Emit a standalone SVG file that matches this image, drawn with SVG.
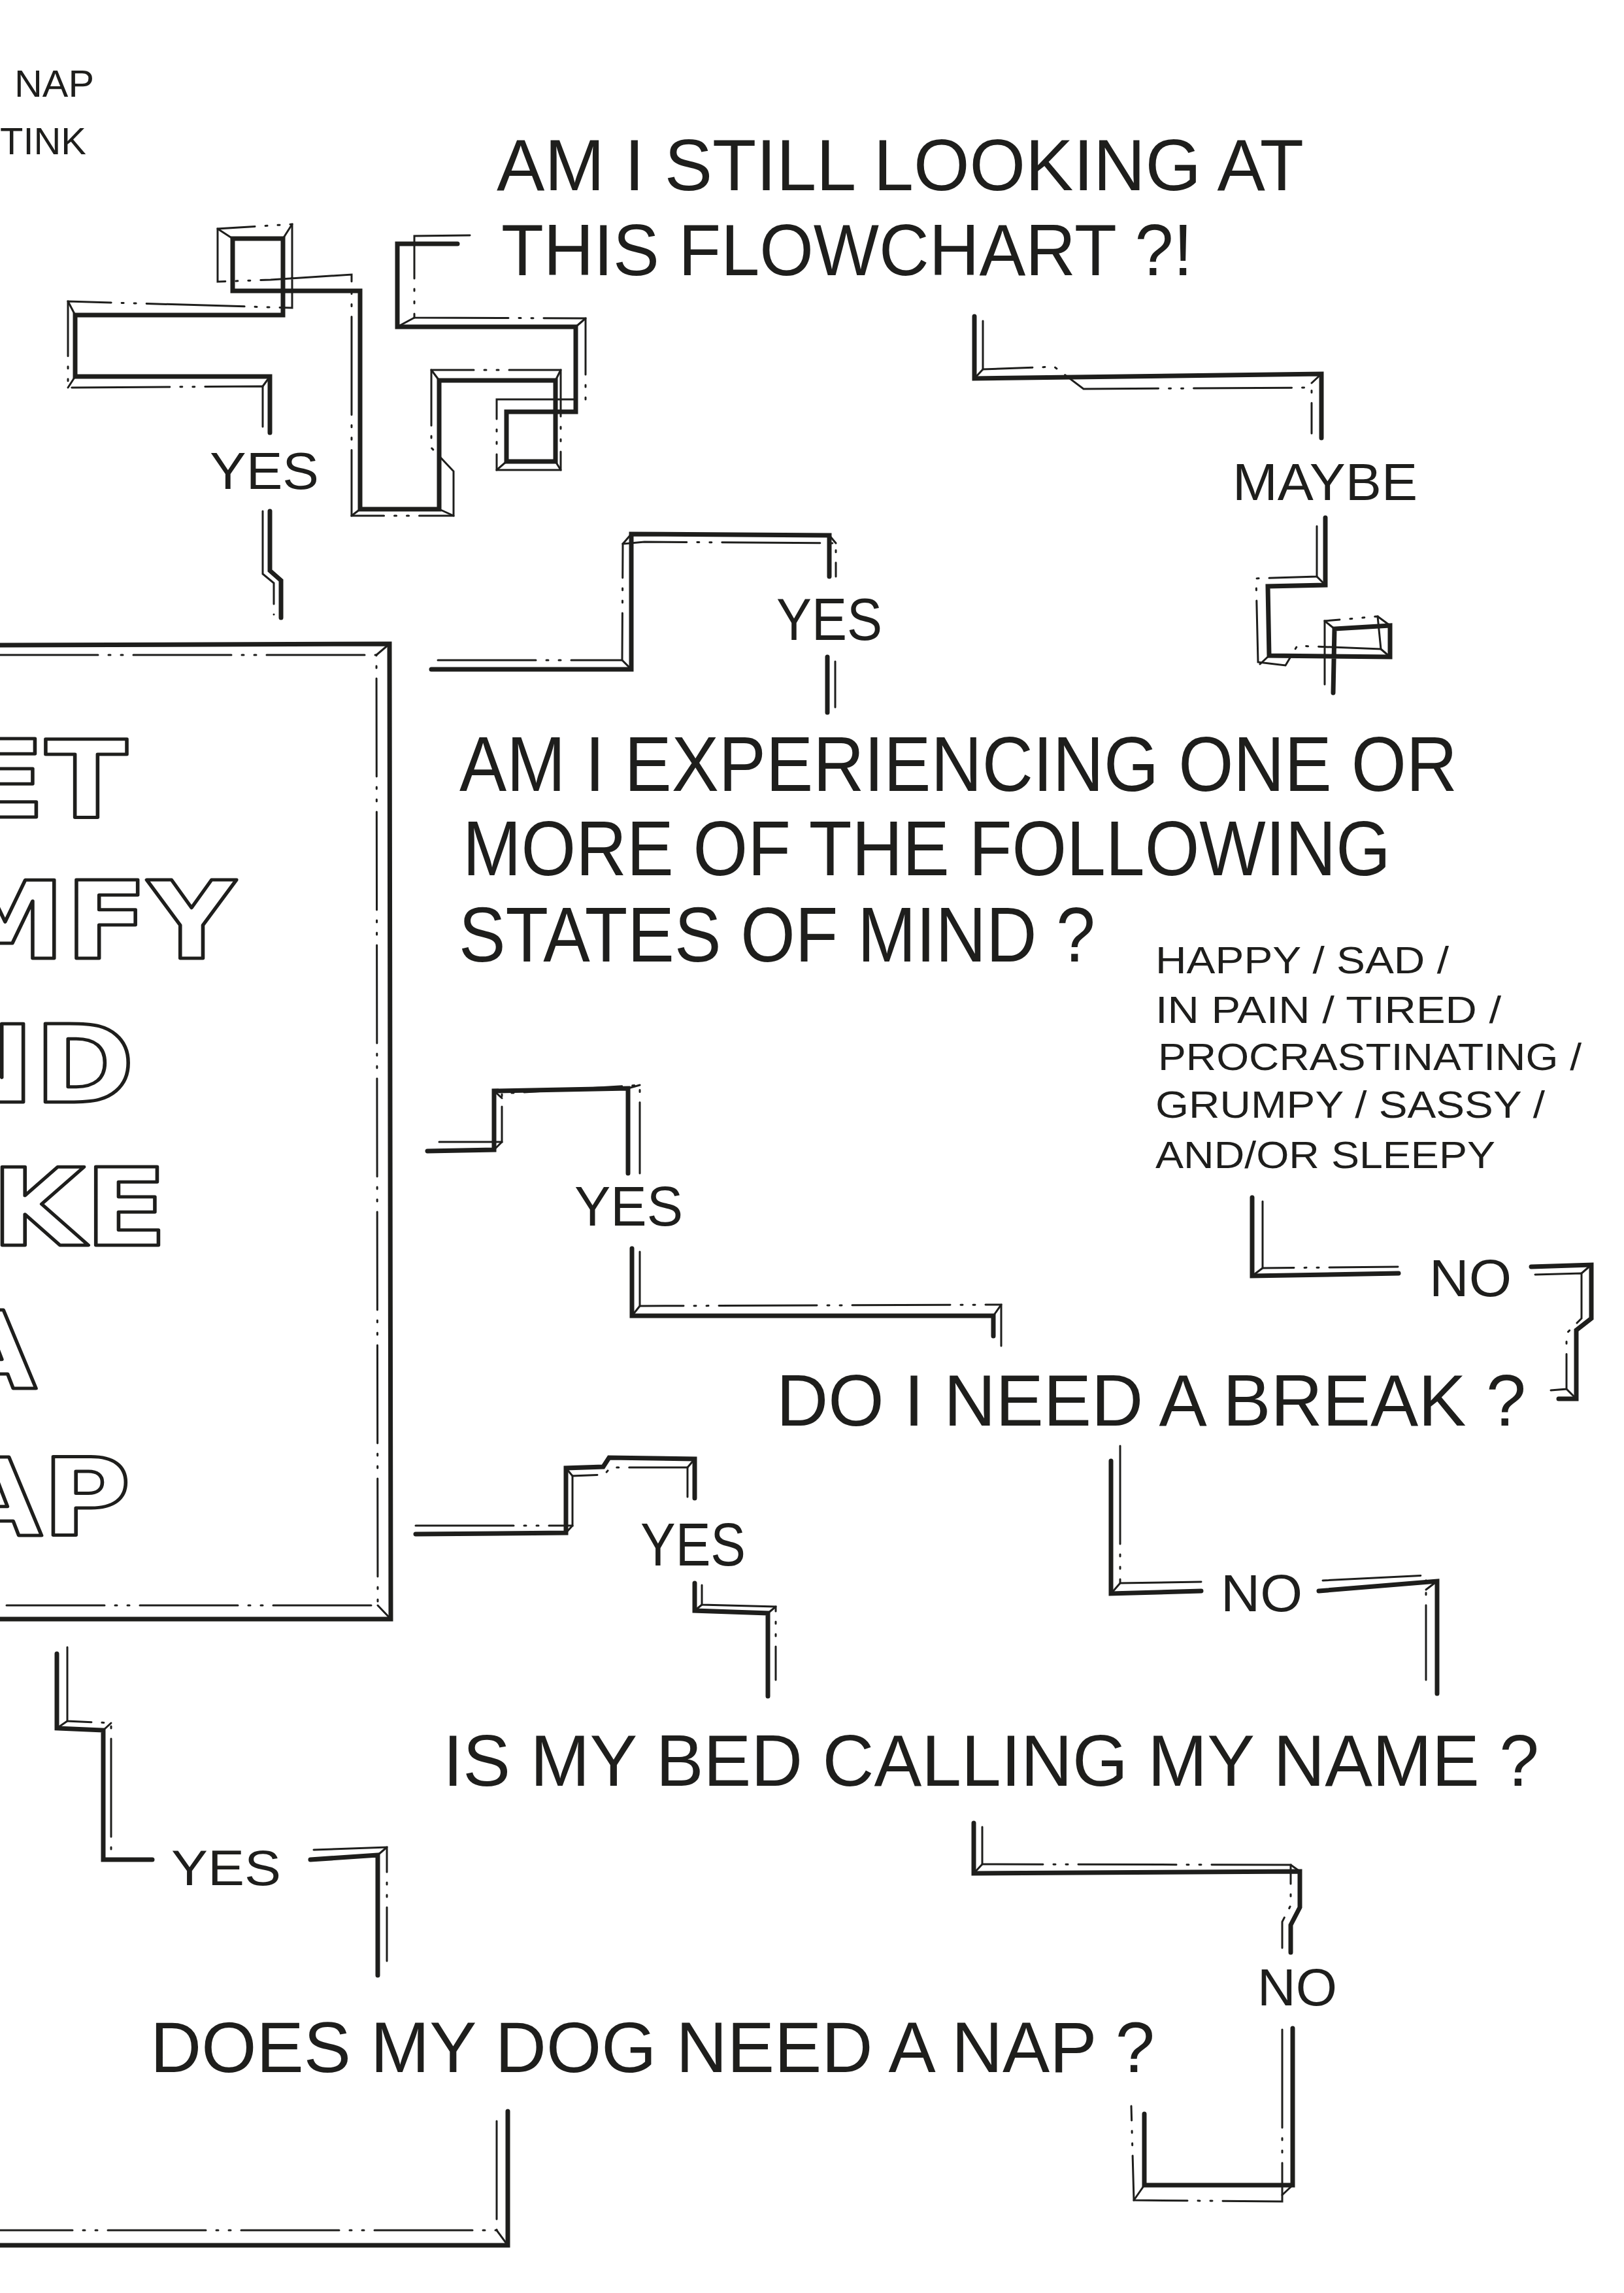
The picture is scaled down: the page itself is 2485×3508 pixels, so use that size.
<svg xmlns="http://www.w3.org/2000/svg" width="2485" height="3508" viewBox="0 0 2485 3508">
<style>
.bg{fill:#ffffff}
.thick{fill:none;stroke:#1e1e1c;stroke-width:7;stroke-linejoin:miter;stroke-linecap:round}
.thin{fill:none;stroke:#1e1e1c;stroke-width:3;stroke-linejoin:miter;stroke-linecap:round;stroke-dasharray:150 16 3 16 3 16}
.bev{fill:none;stroke:#1e1e1c;stroke-width:3;stroke-linecap:round}
.t{font-family:"Liberation Sans",Arial,sans-serif;fill:#1e1e1c}
.q{font-size:112px}
.lab{font-size:80px}
.sm{font-size:57px}
.big{font-family:"DejaVu Sans",Verdana,sans-serif;font-weight:bold;font-size:165px;fill:none;stroke:#1e1e1c;stroke-width:5;stroke-linejoin:round}
</style>
<rect class="bg" x="0" y="0" width="2485" height="3508"/>

<g id="corner-text">
<text class="t sm" x="22" y="148" textLength="122" lengthAdjust="spacingAndGlyphs">NAP</text>
<text class="t sm" x="0" y="236" textLength="132" lengthAdjust="spacingAndGlyphs">TINK</text>
</g>

<g id="node-still-looking">
<text class="t q" x="760" y="291" textLength="1235" lengthAdjust="spacingAndGlyphs">AM I STILL LOOKING AT</text>
<text class="t q" x="767" y="421" textLength="1058" lengthAdjust="spacingAndGlyphs">THIS FLOWCHART ?!</text>
</g>

<g id="node-states">
<text class="t" style="font-size:118px" x="703" y="1210" textLength="1527" lengthAdjust="spacingAndGlyphs">AM I EXPERIENCING ONE OR</text>
<text class="t" style="font-size:118px" x="708" y="1339" textLength="1420" lengthAdjust="spacingAndGlyphs">MORE OF THE FOLLOWING</text>
<text class="t" style="font-size:118px" x="702" y="1471" textLength="974" lengthAdjust="spacingAndGlyphs">STATES OF MIND ?</text>
</g>

<g id="node-states-list">
<text class="t sm" x="1768" y="1489" textLength="449" lengthAdjust="spacingAndGlyphs">HAPPY / SAD /</text>
<text class="t sm" x="1768" y="1565" textLength="529" lengthAdjust="spacingAndGlyphs">IN PAIN / TIRED /</text>
<text class="t sm" x="1772" y="1637" textLength="648" lengthAdjust="spacingAndGlyphs">PROCRASTINATING /</text>
<text class="t sm" x="1768" y="1710" textLength="596" lengthAdjust="spacingAndGlyphs">GRUMPY / SASSY /</text>
<text class="t sm" x="1768" y="1787" textLength="520" lengthAdjust="spacingAndGlyphs">AND/OR SLEEPY</text>
</g>

<g id="node-break">
<text class="t q" x="1188" y="2181" textLength="1147" lengthAdjust="spacingAndGlyphs">DO I NEED A BREAK ?</text>
</g>

<g id="node-bed">
<text class="t q" x="678" y="2732" textLength="1677" lengthAdjust="spacingAndGlyphs">IS MY BED CALLING MY NAME ?</text>
</g>

<g id="node-dog">
<text class="t" style="font-size:110px" x="230" y="3170" textLength="1537" lengthAdjust="spacingAndGlyphs">DOES MY DOG NEED A NAP ?</text>
</g>

<g id="node-nap-box">
<path class="thick" d="M0,987 L596,985 L598,2477 L0,2477"/>
<path class="thin" d="M0,1002 L576,1002 L578,2456 L0,2456"/>
<path class="bev" d="M596,985 L576,1002 M598,2477 L578,2456"/>
<g class="big">
<text transform="translate(195,1250) scale(1.12,1)" text-anchor="end">GET</text>
<text transform="translate(360,1466) scale(1.12,1)" text-anchor="end">COMFY</text>
<text transform="translate(206,1686) scale(1.12,1)" text-anchor="end">AND</text>
<text transform="translate(256,1905) scale(1.12,1)" text-anchor="end">TAKE</text>
<text transform="translate(56,2124) scale(1.12,1)" text-anchor="end">A</text>
<text transform="translate(200,2349) scale(1.12,1)" text-anchor="end">NAP</text>
</g>
</g>

<g id="connectors">
<!-- A: still looking -> YES -> box (maze) -->
<g id="conn-a">
<path class="thick" d="M700,373 L608,373 L608,500 L881,500 L881,630 L775,630 L775,706 L850,706 L850,582 L672,582 L672,779 L551,779 L551,445 L356,445 L356,365 L433,365 L433,482 L115,482 L115,576 L413,576 L413,662"/>
<path class="thin" d="M719,360 L634,361 L634,486 L896,487 L896,611 L760,611 L760,719 L858,719 L858,566 L660,566 L660,685 L694,721 L694,789 L538,789 L538,420 L414,428 L333,431 L333,350 L447,343 L447,471 L104,461 L104,593 L402,591 L402,664"/>
<path class="bev" d="M608,500 L634,486 M356,365 L333,350 M433,365 L447,343 M115,482 L104,461 M115,576 L104,593 M413,576 L402,591 M672,582 L660,566 M850,582 L858,566 M551,779 L538,789 M672,779 L694,789 M775,706 L760,719 M850,706 L858,719 M881,500 L896,487"/>
<text class="t lab" x="321" y="748" textLength="167" lengthAdjust="spacingAndGlyphs">YES</text>
<path class="thick" d="M413,782 L413,873 L430,888 L430,945"/>
<path class="thin" d="M402,782 L402,878 L419,892 L419,940"/>
</g>
<!-- B: still looking -> MAYBE -> states -->
<g id="conn-b">
<path class="thick" d="M1491,484 L1491,579 L2022,572 L2022,670"/>
<path class="thin" d="M1504,491 L1504,565 L1613,561 L1658,595 L2007,593 L2007,663"/>
<path class="bev" d="M1491,579 L1504,565 M2022,572 L2007,586"/>
<text class="t lab" x="1886" y="765" textLength="283" lengthAdjust="spacingAndGlyphs">MAYBE</text>
<path class="thick" d="M2028,792 L2028,895 L1940,897 L1942,1003 L2127,1005 L2127,957 L2042,962 L2040,1060"/>
<path class="thin" d="M2015,805 L2015,882 L1922,885 L1925,1013 L1967,1018 L1985,988 L2113,993 L2108,943 L2027,950 L2027,1047"/>
<path class="bev" d="M2028,895 L2015,882 M1942,1003 L1928,1016 M2127,957 L2108,943 M2127,1005 L2113,993 M2042,962 L2027,950"/>
</g>
<!-- C: states YES <- box -->
<g id="conn-c">
<path class="thick" d="M660,1024 L966,1024 L966,817 L1269,819 L1269,882"/>
<path class="thin" d="M670,1010 L952,1010 L953,832 L986,829 L1279,831 L1279,882"/>
<path class="bev" d="M966,1024 L952,1010 M966,817 L953,832 M1269,819 L1279,831"/>
<text class="t" style="font-size:90px" x="1188" y="979" textLength="162" lengthAdjust="spacingAndGlyphs">YES</text>
<path class="thick" d="M1266,1005 L1266,1090"/>
<path class="thin" d="M1278,1012 L1278,1082"/>
</g>
<!-- D: states -> YES -> break ; box -->
<g id="conn-d">
<path class="thick" d="M654,1761 L756,1759 L756,1669 L961,1665 L961,1795"/>
<path class="thin" d="M672,1747 L768,1747 L768,1673 L979,1660 L979,1795"/>
<path class="bev" d="M756,1759 L768,1747 M756,1669 L768,1680 M961,1665 L979,1660"/>
<text class="t" style="font-size:85px" x="879" y="1875" textLength="166" lengthAdjust="spacingAndGlyphs">YES</text>
<path class="thick" d="M967,1910 L967,2013 L1520,2013 L1520,2044"/>
<path class="thin" d="M979,1915 L979,1998 L1532,1996 L1532,2059"/>
<path class="bev" d="M967,2013 L979,1998 M1520,2013 L1532,1996"/>
</g>
<!-- E: states NO -> break -->
<g id="conn-e">
<path class="thick" d="M1916,1832 L1916,1952 L2140,1948"/>
<path class="thin" d="M1932,1838 L1932,1940 L2139,1938"/>
<path class="bev" d="M1916,1952 L1932,1940"/>
<text class="t lab" x="2187" y="1983" textLength="126" lengthAdjust="spacingAndGlyphs">NO</text>
<path class="thick" d="M2343,1938 L2435,1935 L2435,2017 L2412,2035 L2412,2140 L2385,2140"/>
<path class="thin" d="M2349,1950 L2420,1948 L2420,2017 L2397,2040 L2397,2125 L2373,2127"/>
<path class="bev" d="M2435,1935 L2420,1948 M2412,2140 L2397,2125"/>
</g>
<!-- F: break NO -> bed -->
<g id="conn-f">
<path class="thick" d="M1700,2235 L1700,2438 L1838,2434"/>
<path class="thin" d="M1714,2212 L1714,2422 L1838,2420"/>
<path class="bev" d="M1700,2438 L1714,2422"/>
<text class="t lab" x="1868" y="2465" textLength="125" lengthAdjust="spacingAndGlyphs">NO</text>
<path class="thick" d="M2018,2434 L2199,2419 L2199,2591"/>
<path class="thin" d="M2024,2418 L2182,2410 L2182,2570"/>
<path class="bev" d="M2199,2419 L2182,2432"/>
</g>
<!-- G: bed YES -> box -->
<g id="conn-g">
<path class="thick" d="M636,2347 L866,2345 L866,2246 L923,2244 L932,2230 L1063,2232 L1063,2292"/>
<path class="thin" d="M636,2334 L876,2334 L876,2258 L925,2256 L934,2245 L1052,2245 L1052,2290"/>
<path class="bev" d="M866,2345 L876,2334 M866,2246 L876,2258 M1063,2232 L1052,2245"/>
<text class="t" style="font-size:92px" x="980" y="2395" textLength="161" lengthAdjust="spacingAndGlyphs">YES</text>
<path class="thick" d="M1063,2422 L1063,2464 L1175,2468 L1175,2595"/>
<path class="thin" d="M1074,2425 L1074,2455 L1187,2458 L1187,2570"/>
<path class="bev" d="M1063,2464 L1074,2455 M1175,2468 L1187,2458"/>
</g>
<!-- H: bed NO -> dog (loop) -->
<g id="conn-h">
<path class="thick" d="M1490,2789 L1490,2866 L1989,2863 L1989,2918 L1975,2945 L1975,2987"/>
<path class="thin" d="M1503,2795 L1503,2852 L1975,2853 L1975,2915 L1962,2940 L1962,2980"/>
<path class="bev" d="M1490,2866 L1503,2852 M1989,2863 L1975,2853"/>
<text class="t lab" x="1924" y="3068" textLength="122" lengthAdjust="spacingAndGlyphs">NO</text>
<path class="thick" d="M1978,3103 L1978,3343 L1751,3343 L1751,3234"/>
<path class="thin" d="M1962,3105 L1962,3368 L1735,3366 L1731,3222"/>
<path class="bev" d="M1978,3343 L1962,3358 M1751,3343 L1735,3366"/>
</g>
<!-- I: box -> YES -> dog -->
<g id="conn-i">
<path class="thick" d="M87,2530 L87,2644 L158,2647 L158,2845 L233,2845"/>
<path class="thin" d="M103,2520 L103,2633 L170,2636 L170,2832"/>
<path class="bev" d="M87,2644 L103,2633 M158,2647 L170,2636"/>
<text class="t" style="font-size:76px" x="262" y="2884" textLength="168" lengthAdjust="spacingAndGlyphs">YES</text>
<path class="thick" d="M475,2845 L578,2838 L578,3022"/>
<path class="thin" d="M480,2830 L592,2826 L592,3000"/>
<path class="bev" d="M578,2838 L592,2826"/>
</g>
<!-- J: dog -> out -->
<g id="conn-j">
<path class="thick" d="M777,3230 L777,3435 L0,3435"/>
<path class="thin" d="M760,3245 L760,3412 L0,3412"/>
<path class="bev" d="M777,3435 L760,3412"/>
</g>
</g>
</svg>
